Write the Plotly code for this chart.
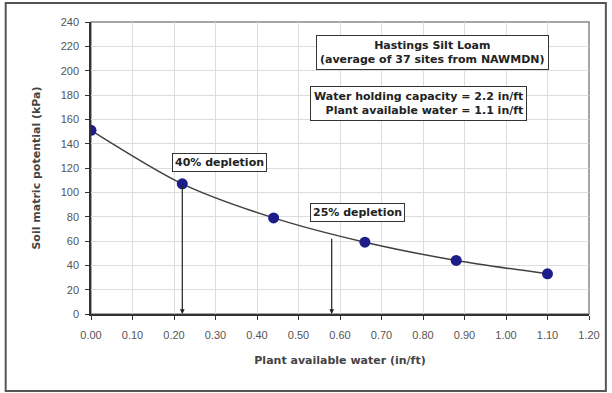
import plotly.graph_objects as go

paw = [0.00, 0.22, 0.44, 0.66, 0.88, 1.10]
smp = [151, 107, 79, 59, 44, 33]

arrow_x = [0.22, 0.58]
arrow_top = [107, 63]

x_ticks = [round(i * 0.1, 2) for i in range(13)]
y_ticks = list(range(0, 241, 20))

FONT = "Liberation Sans, Arial, sans-serif"
BFONT = "DejaVu Sans, Verdana, sans-serif"

fig = go.Figure()
fig.add_trace(go.Scatter(
    x=paw, y=smp, mode="lines", line=dict(color="#404040", width=1.5, shape="spline", smoothing=0.8),
    hoverinfo="skip", showlegend=False))
fig.add_trace(go.Scatter(
    x=paw, y=smp, mode="markers", marker=dict(color="#1c1c8a", size=11, line=dict(width=0)),
    showlegend=False))

annotations = []
for xv, yt in zip(arrow_x, arrow_top):
    annotations.append(dict(x=xv, y=0, ax=xv, ay=yt, xref="x", yref="y", axref="x", ayref="y",
                            showarrow=True, arrowhead=2, arrowsize=0.8, arrowwidth=1.2,
                            arrowcolor="#222222", text=""))

box = dict(showarrow=False, bordercolor="#333333", borderwidth=1, bgcolor="white",
           font=dict(family=BFONT, size=11, color="#222222"))
annotations.append(dict(x=0.196, y=124.6, xref="x", yref="y", xanchor="left", text="<b>40% depletion</b>", borderpad=2, **box))
annotations.append(dict(x=0.528, y=83.5, xref="x", yref="y", xanchor="left", text="<b>25% depletion</b>", borderpad=2, **box))
annotations.append(dict(x=0.822, y=215, xref="x", yref="y", xanchor="center",
                        text="<b>Hastings Silt Loam</b><br><b>(average of 37 sites from NAWMDN)</b>", borderpad=3, **box))
annotations.append(dict(x=0.528, y=173, xref="x", yref="y", xanchor="left", align="right",
                        text="<b>Water holding capacity = 2.2 in/ft</b><br><b>Plant available water = 1.1 in/ft</b>", borderpad=3, **box))

fig.update_layout(
    width=612, height=393,
    margin=dict(l=91, r=19, t=22, b=79),
    paper_bgcolor="white", plot_bgcolor="white",
    font=dict(family=FONT, size=11, color="#333333"),
    annotations=annotations,
    shapes=[dict(type="rect", xref="paper", yref="paper",
                 x0=-86 / 502, x1=1 + 17 / 502, y0=-77 / 292, y1=1 + 19 / 292,
                 line=dict(color="#555555", width=2), layer="below")],
)
fig.update_xaxes(range=[0, 1.2], tickvals=x_ticks, tickformat=".2f",
                 showgrid=True, gridcolor="#dddddd", gridwidth=1,
                 showline=True, linecolor="#333333", linewidth=1.5, mirror=False,
                 ticks="outside", ticklen=4, tickcolor="#333333",
                 tickfont=dict(color="#555555"), ticklabelstandoff=6,
                 title=dict(text="<b>Plant available water (in/ft)</b>", font=dict(family=BFONT, size=11, color="#444444"), standoff=16),
                 zeroline=False, fixedrange=True)
fig.update_yaxes(range=[0, 240], tickvals=y_ticks,
                 showgrid=True, gridcolor="#dddddd", gridwidth=1,
                 showline=True, linecolor="#333333", linewidth=1.5,
                 ticks="outside", ticklen=4, tickcolor="#333333",
                 tickfont=dict(color="#555555"), ticklabelstandoff=4,
                 title=dict(text="<b>Soil matric potential (kPa)</b>", font=dict(family=BFONT, size=11, color="#444444"), standoff=18),
                 zeroline=False, fixedrange=True)
fig.add_shape(type="rect", xref="paper", yref="paper", x0=0, x1=1, y0=0, y1=1,
              line=dict(color="#888888", width=1.5), layer="below")

fig.write_html("out.html", config={"displayModeBar": False},
               post_script="document.body.style.margin='0';")
